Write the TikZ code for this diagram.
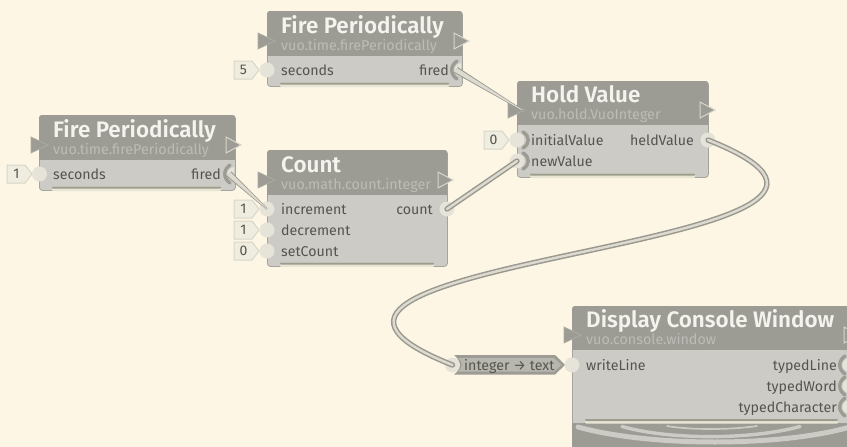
\documentclass[tikz,border=0pt]{standalone}
\usepackage{fontspec}
\setmainfont{Fira Sans}
\newfontfamily\titlefnt{Fira Sans SemiBold}
\usetikzlibrary{calc}
\definecolor{bgc}{HTML}{FEF6E4}
\definecolor{headc}{HTML}{9C9B94}
\definecolor{triedge}{HTML}{ADACA5}
\definecolor{bodyc}{HTML}{CCCBC6}
\definecolor{edgec}{HTML}{A5A49C}
\definecolor{labelc}{HTML}{55544F}
\definecolor{titlec}{HTML}{F4F3EE}
\definecolor{subc}{HTML}{BDBCB6}
\definecolor{portc}{HTML}{E6E4D8}
\definecolor{flagc}{HTML}{EFEDDF}
\definecolor{flagl}{HTML}{D8D6C8}
\definecolor{barl}{HTML}{E8E5D4}
\definecolor{bard}{HTML}{9E9C8C}
\definecolor{convc}{HTML}{B8B7AF}
\definecolor{cabled}{HTML}{9A9990}
\definecolor{cablel}{HTML}{DDDBCF}
\tikzset{
  vuobox/.style={fill=bodyc,draw=edgec,line width=.8pt,rounded corners=3pt,inner sep=0pt,anchor=north west},
  vuotitle/.style={text=titlec,font=\fontsize{22.4}{24}\selectfont\titlefnt,anchor=base west,inner sep=0pt},
  vuosub/.style={text=subc,font=\fontsize{14.3}{15}\selectfont,anchor=base west,inner sep=0pt},
  portlabel/.style={text=labelc,font=\fontsize{14.2}{15}\selectfont,inner sep=0pt},
  portdot/.style={circle,fill=portc,minimum size=15pt,inner sep=0pt},
  flagtext/.style={text=labelc,font=\fontsize{14}{15}\selectfont,inner sep=0pt},
  anchorpt/.style={circle,inner sep=0pt,minimum size=1pt},
  outercable/.style={cabled,line width=5.4pt,line cap=round},
  innercable/.style={cablel,line width=2.4pt,line cap=round}
}
% name x1 y1 x2 y2 yh barx1 barx2
\newcommand{\vuonode}[8]{%
  \pgfmathsetmacro{\vw}{#4-#2}\pgfmathsetmacro{\vh}{#5-#3}%
  \node[vuobox,minimum width=\vw pt,minimum height=\vh pt] (#1) at (#2,#3) {};
  \begin{scope}
    \clip (#2-1,#3-1) rectangle (#4+1,#6);
    \fill[headc,rounded corners=3pt] (#2,#3) rectangle (#4,#5);
  \end{scope}
  \fill[barl,rounded corners=1pt] (#7,#5-3.5) rectangle (#8,#5+1);
  \fill[bard,rounded corners=.8pt] (#7,#5-3.5) rectangle (#8,#5-1.4);
}
\newcommand{\intri}[2]{\draw[triedge,line width=.7pt,fill=headc] (#1,#2-8) -- (#1+17,#2) -- (#1,#2+8) -- cycle;}
\newcommand{\outtri}[2]{\draw[flagl,line width=1pt,fill=headc] (#1,#2-8) -- (#1+15,#2) -- (#1,#2+8) -- cycle;}
% flag: name tipx y text
\newcommand{\flag}[4]{%
  \draw[flagl,line width=1pt,fill=flagc] (#2-25,#3-9) -- (#2-7,#3-9) -- (#2,#3) -- (#2-7,#3+9) -- (#2-25,#3+9) -- cycle;
  \node[flagtext] (#1) at (#2-15.5,#3+.3) {#4};
}
\newcommand{\wallin}[2]{\draw[headc,line width=3.4pt,line cap=round] (#1+4,#2-8) .. controls (#1+11,#2-4) and (#1+11,#2+4) .. (#1+4,#2+8);}
\newcommand{\wallout}[2]{%
  \fill[portc] (#1,#2-7) .. controls (#1-9,#2-5) and (#1-9,#2+5) .. (#1,#2+7) -- cycle;
  \draw[headc,line width=3.4pt,line cap=round] (#1-4,#2-9) .. controls (#1-11,#2-4) and (#1-11,#2+4) .. (#1-4,#2+9);}
\newcommand{\taper}[2]{%
  \fill[cabled] ($(#1.center)!3.4pt!90:(#2.center)$) -- ($(#2.center)!.8pt!-90:(#1.center)$) -- ($(#2.center)!.8pt!90:(#1.center)$) -- ($(#1.center)!3.4pt!-90:(#2.center)$) -- cycle;
  \fill[cablel] ($(#1.center)!2.3pt!90:(#2.center)$) -- ($(#2.center)!.3pt!-90:(#1.center)$) -- ($(#2.center)!.3pt!90:(#1.center)$) -- ($(#1.center)!2.3pt!-90:(#2.center)$) -- cycle;
}
\begin{document}
\begin{tikzpicture}[x=1pt,y=-1pt]
\useasboundingbox (0,0) rectangle (847,447);
\clip (0,0) rectangle (847,447);
\fill[bgc] (0,0) rectangle (847,447);

% Fire Periodically (top)
\vuonode{fireTop}{267}{11}{462}{86}{55}{280}{449}
\intri{258}{41}\outtri{454}{41}
\node[vuotitle] (fireTopTitle) at (281,33) {Fire Periodically};
\node[vuosub] (fireTopSub) at (281,50) {vuo.time.firePeriodically};
\flag{fireTopFlag}{259}{70}{5}
\node[portdot] (fireTopSec) at (267,70) {};
\node[portlabel,anchor=base west] (fireTopSecL) at (281,75) {seconds};
\node[portlabel,anchor=base east] (fireTopFiredL) at (449,75) {fired};
\wallout{461}{70}
\node[anchorpt] (fireTopFired) at (456,70) {};

% Fire Periodically (left)
\vuonode{fireLeft}{39}{115}{235}{190}{159}{52}{221}
\intri{31}{145}\outtri{226}{145}
\node[vuotitle] (fireLeftTitle) at (53,137) {Fire Periodically};
\node[vuosub] (fireLeftSub) at (53,154) {vuo.time.firePeriodically};
\flag{fireLeftFlag}{32}{174}{1}
\node[portdot] (fireLeftSec) at (39.5,174) {};
\node[portlabel,anchor=base west] (fireLeftSecL) at (53,179) {seconds};
\node[portlabel,anchor=base east] (fireLeftFiredL) at (221,179) {fired};
\wallout{234}{174}
\node[anchorpt] (fireLeftFired) at (229,174) {};

% Count
\vuonode{count}{267}{150}{447}{266}{194}{280}{434}
\intri{258}{180}\outtri{438}{180}
\node[vuotitle] (countTitle) at (281,172) {Count};
\node[vuosub] (countSub) at (281,189) {vuo.math.count.integer};
\flag{countFlagA}{259}{209}{1}
\flag{countFlagB}{259}{230}{1}
\flag{countFlagC}{259}{251}{0}
\node[portdot] (countInc) at (267,209) {};
\node[portdot] (countDec) at (267,230) {};
\node[portdot] (countSet) at (267,251) {};
\node[portlabel,anchor=base west] (countIncL) at (281,214) {increment};
\node[portlabel,anchor=base west] (countDecL) at (281,235) {decrement};
\node[portlabel,anchor=base west] (countSetL) at (281,256) {setCount};
\node[portlabel,anchor=base east] (countOutL) at (433,214) {count};
\node[portdot] (countOut) at (447,209) {};

% Hold Value
\vuonode{hold}{517}{81}{708}{177}{124}{530}{695}
\intri{508}{110}\outtri{700}{110}
\node[anchorpt] (holdTri) at (522,110) {};
\node[vuotitle] (holdTitle) at (531,102) {Hold Value};
\node[vuosub] (holdSub) at (531,119.5) {vuo.hold.VuoInteger};
\flag{holdFlag}{509}{140}{0}
\node[portdot] (holdInit) at (517,140) {};
\node[portdot] (holdNew) at (517,161) {};
\wallin{519}{140}
\wallin{519}{161}
\node[portlabel,anchor=base west] (holdInitL) at (531,145) {initialValue};
\node[portlabel,anchor=base west] (holdNewL) at (531,166) {newValue};
\node[portlabel,anchor=base east] (holdOutL) at (694,145) {heldValue};
\node[portdot] (holdOut) at (708,140) {};

% Display Console Window
\vuonode{display}{572}{306}{900}{470}{349}{585}{838}
\fill[headc] (572,423) rectangle (847,447);
\fill[barl,rounded corners=1pt] (585,419) rectangle (838,423.5);
\fill[bard,rounded corners=.8pt] (585,419) rectangle (838,421);
\intri{564}{335}\outtri{844}{335}
\node[vuotitle] (displayTitle) at (586,327) {Display Console Window};
\node[vuosub] (displaySub) at (586,344.5) {vuo.console.window};
\node[portlabel,anchor=base west] (displayWriteL) at (586,370) {writeLine};
\node[portlabel,anchor=base east] (displayLineL) at (837,370) {typedLine};
\node[portlabel,anchor=base east] (displayWordL) at (837,391) {typedWord};
\node[portlabel,anchor=base east] (displayCharL) at (837,412) {typedCharacter};
\wallout{849}{365}\wallout{849}{386}\wallout{849}{407}
\draw[bodyc,line width=5pt,line cap=round] (578,427) .. controls (650,447) and (780,447) .. (850,427);
\draw[bodyc,line width=3.4pt,line cap=round] (622,426.5) .. controls (670,440) and (750,440) .. (800,426.5);
\draw[bodyc,line width=1.7pt,line cap=round] (667,426) .. controls (690,430) and (730,430) .. (757,426);

% Converter
\fill[headc] (454,355) -- (555,355) -- (565,365) -- (555,374.5) -- (454,374.5) .. controls (461,370) and (461,360) .. (454,355) -- cycle;
\fill[convc] (458,358) -- (554,358) -- (561.5,365) -- (554,371.5) -- (458,371.5) .. controls (463,368) and (463,361) .. (458,358) -- cycle;
\node[portdot] (convIn) at (452.5,365) {};
\node[portlabel,anchor=base west] (convL) at (464,370) {integer → text};
\node[portdot] (displayWrite) at (572,365) {};

% Cables
\taper{fireTopFired}{holdTri}
\taper{fireLeftFired}{countInc}
\draw[outercable] (countOut.center) -- (holdNew.center);
\draw[innercable] (countOut.center) -- (holdNew.center);
\draw[outercable] (holdOut.center) .. controls ($(holdOut.center)+(278,110)$) and ($(convIn.center)+(-278,-110)$) .. (convIn.center);
\draw[innercable] (holdOut.center) .. controls ($(holdOut.center)+(278,110)$) and ($(convIn.center)+(-278,-110)$) .. (convIn.center);
\end{tikzpicture}
\end{document}
